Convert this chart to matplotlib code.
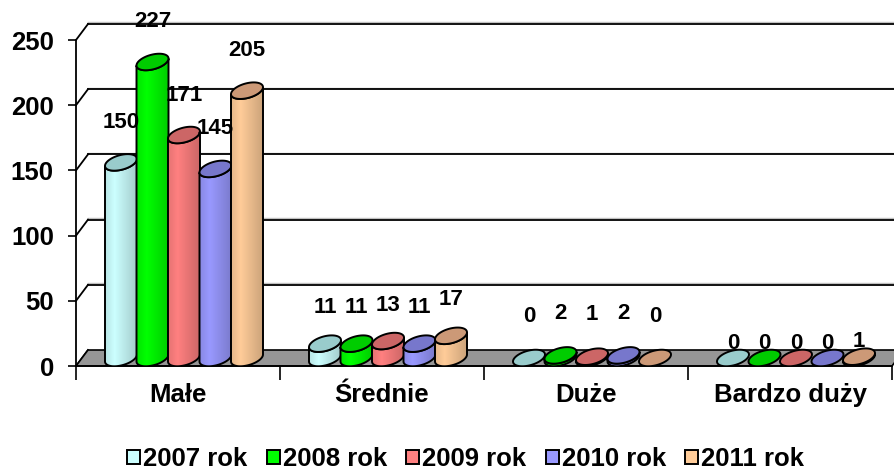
import numpy as np
import matplotlib
matplotlib.use("Agg")
import matplotlib.pyplot as plt
from matplotlib.patches import Polygon, Patch
from matplotlib.colors import to_rgb

categories = ["Małe", "Średnie", "Duże", "Bardzo duży"]
series = ["2007 rok", "2008 rok", "2009 rok", "2010 rok", "2011 rok"]
v2007 = [150, 11, 0, 0]
v2008 = [227, 11, 2, 0]
v2009 = [171, 13, 1, 0]
v2010 = [145, 11, 2, 0]
v2011 = [205, 17, 0, 1]
values = [v2007, v2008, v2009, v2010, v2011]
yticks = [0, 50, 100, 150, 200, 250]

# cylinder side colour / top colour (excel style)
colors = ["#CCFFFF", "#00FF00", "#FF8080", "#9999FF", "#FFCC99"]
tops = ["#99CCCC", "#00CC00", "#CC6666", "#7777CC", "#CC9977"]

plt.rcParams["font.family"] = ["Liberation Sans", "DejaVu Sans"]
plt.rcParams["font.weight"] = "bold"

W, H = 894, 473
fig = plt.figure(figsize=(W / 100, H / 100), dpi=100)
# front plane of the 3d box, pixels x 76..892, y 366..40
ax = fig.add_axes([76 / W, (H - 366) / H, 816 / W, 326 / H])

px_x = 4 / 816
px_y = 250 / 326
dx, dy = 12 * px_x, 16 * px_y  # depth of the box

# walls and floor
for v in yticks:
    ax.plot([0, dx], [v, v + dy], color="k", lw=1.3, clip_on=False, zorder=1)
    if v > 0:
        ax.plot([dx, 4 + 2 * dx], [v + dy + 1.5 * px_y] * 2, color="#c0c0c0", lw=1, clip_on=False, zorder=0.9)
        ax.plot([dx, 4 + 2 * dx], [v + dy] * 2, color="k", lw=1.3, clip_on=False, zorder=1)
floor = Polygon([(0, 0), (4, 0), (4 + dx, dy), (dx, dy)], closed=True, fc="#969696",
                ec="k", lw=1.2, clip_on=False, zorder=1.5)
ax.add_patch(floor)

bar_w = 32 * px_x
step = 31.5 * px_x
a = bar_w / 2
b = 7.5 * px_y
s = 3.5 * px_y
y_base = dy / 2


def ellipse(xc, yc, t):
    return np.column_stack([xc + a * np.cos(t), yc + b * np.sin(t) + s * np.cos(t)])


u = np.linspace(0, 1, 64)
shade = np.interp(u, [0, 0.3, 1], [0.9, 1.0, 0.8])

lift = [40, 36, 42, 15]  # label distance above the tops, px, per group

for i, vals in enumerate(values):
    z = 3 + i
    for j, v in enumerate(vals):
        xc = j + 0.5 + (i - 2) * step + dx / 2
        y1 = y_base + v
        if v > 0:
            t = np.linspace(np.pi, 2 * np.pi, 40)
            pts = np.vstack([ellipse(xc, y_base, t), ellipse(xc, y1, t[::-1])])
            body = Polygon(pts, closed=True, fc="none", ec="none")
            ax.add_patch(body)
            img = (np.array(to_rgb(colors[i]))[None, :] * shade[:, None])[None, :, :]
            im = ax.imshow(img, extent=(xc - a, xc + a, y_base - b - s, y1 + b + s),
                           aspect="auto", interpolation="bilinear", zorder=z)
            im.set_clip_path(body)
            ax.add_patch(Polygon(pts, closed=True, fc="none", ec="k", lw=1.4, zorder=z + 0.1))
        top = ellipse(xc, y1, np.linspace(0, 2 * np.pi, 80))
        ax.add_patch(Polygon(top, closed=True, fc=tops[i], ec="k", lw=1.4, zorder=z + 0.2))
        ax.annotate(str(v), (xc, y1), xytext=(0, lift[j]), textcoords="offset pixels",
                    ha="center", va="center", fontsize=16, fontweight="bold",
                    annotation_clip=False, zorder=10)

ax.set_xlim(0, 4)
ax.set_ylim(0, 250)

ax.set_yticks(yticks)
ax.tick_params(axis="y", length=6, width=1.2, pad=10, labelsize=18.5)
ax.set_xticks(range(5))
ax.set_xticklabels([])
ax.tick_params(axis="x", which="major", length=10, width=1.2)
ax.set_xticks(np.arange(4) + 0.5, minor=True)
ax.set_xticklabels(categories, minor=True)
ax.tick_params(axis="x", which="minor", length=0, pad=12, labelsize=18.5)
for sp in ["top", "right"]:
    ax.spines[sp].set_visible(False)
for sp in ["left", "bottom"]:
    ax.spines[sp].set_linewidth(1.3)
    ax.spines[sp].set_zorder(2)
ax.patch.set_alpha(0)

handles = [Patch(fc=c, ec="k", lw=1.4) for c in colors]
fig.legend(handles, series, loc="center", bbox_to_anchor=(0.521, 0.029), ncol=5,
           frameon=False, fontsize=18.5, handlelength=0.5, handleheight=0.5,
           handletextpad=0.12, columnspacing=0.75, borderaxespad=0)

fig.savefig("out.png", dpi=100)
